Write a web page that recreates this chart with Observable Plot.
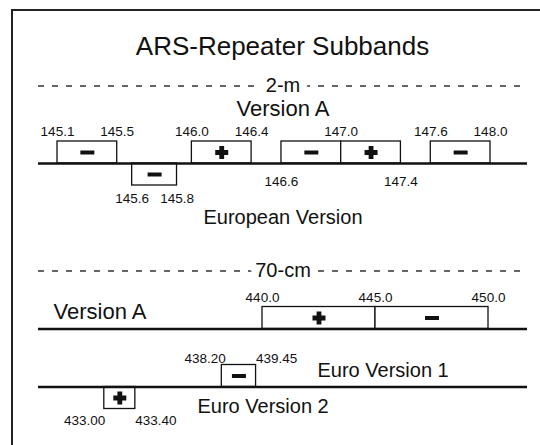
<!DOCTYPE html>
<html><head><meta charset="utf-8">
<script src="https://cdn.jsdelivr.net/npm/d3@7"></script>
<script src="https://cdn.jsdelivr.net/npm/@observablehq/plot@0.6"></script>
<style>
body{margin:0;background:#fff;}
#page{position:relative;width:540px;height:445px;overflow:hidden;background:#fff;font-family:"Liberation Sans",Arial,sans-serif;color:#111;}
#frame{position:absolute;left:11px;top:9px;width:600px;height:600px;border-top:2px solid #222;border-left:2px solid #222;}
#title{position:absolute;left:0;width:565px;top:31px;line-height:30px;text-align:center;font-size:26px;}
</style></head><body>
<div id="page"><div id="frame"></div><div id="title">ARS-Repeater Subbands</div></div>
<script>
// ---- data ----
const twoMVersionA = [
  {lo: 145.1, hi: 145.5, sign: "-"},
  {lo: 146.0, hi: 146.4, sign: "+"},
  {lo: 146.6, hi: 147.0, sign: "-"},
  {lo: 147.0, hi: 147.4, sign: "+"},
  {lo: 147.6, hi: 148.0, sign: "-"}
];
const twoMEuropean = [{lo: 145.6, hi: 145.8, sign: "-"}];
const twoMLabelsAbove = ["145.1", "145.5", "146.0", "146.4", "147.0", "147.6", "148.0"];
const twoMLabelsBelow = ["146.6", "147.4"];
const twoMEuroLabels = ["145.6", "145.8"];

const cm70VersionA = [
  {lo: 440.0, hi: 445.0, sign: "+"},
  {lo: 445.0, hi: 450.0, sign: "-"}
];
const cm70Labels = ["440.0", "445.0", "450.0"];
const cm70Euro1 = [{lo: 438.20, hi: 439.45, sign: "-"}];
const cm70Euro1Labels = ["438.20", "439.45"];
const cm70Euro2 = [{lo: 433.00, hi: 433.40, sign: "+"}];
const cm70Euro2Labels = ["433.00", "433.40"];

// ---- styling helpers ----
const ink = "#111";
const font = "Liberation Sans, Arial, sans-serif";
const minusSym = {draw(ctx) { ctx.moveTo(-7, -2); ctx.lineTo(7, -2); ctx.lineTo(7, 2); ctx.lineTo(-7, 2); ctx.closePath(); }};
const plusSym = {draw(ctx) {
  const a = 6.5, t = 2.4;
  ctx.moveTo(-t, -a); ctx.lineTo(t, -a); ctx.lineTo(t, -t); ctx.lineTo(a, -t); ctx.lineTo(a, t);
  ctx.lineTo(t, t); ctx.lineTo(t, a); ctx.lineTo(-t, a); ctx.lineTo(-t, t); ctx.lineTo(-a, t);
  ctx.lineTo(-a, -t); ctx.lineTo(-t, -t); ctx.closePath();
}};
const mid = d => (d.lo + d.hi) / 2;

function boxes(data, y1, y2, widen = 0) {
  return [
    Plot.rect(data, {x1: "lo", x2: "hi", y1, y2, fill: "white", stroke: ink, strokeWidth: 1.3, insetRight: -widen}),
    Plot.dot(data.filter(d => d.sign === "+"), {x: mid, y: (y1 + y2) / 2, dx: widen / 2, symbol: plusSym, fill: ink, stroke: "none"}),
    Plot.dot(data.filter(d => d.sign === "-"), {x: mid, y: (y1 + y2) / 2, dx: widen / 2, symbol: minusSym, fill: ink, stroke: "none"})
  ];
}
function header(y, label) {
  return [
    Plot.ruleY([y], {stroke: "#333", strokeWidth: 1.6, strokeDasharray: "6,8"}),
    Plot.text([label], {y, text: d => d, frameAnchor: "middle", fontSize: 20, fill: ink, stroke: "white", strokeWidth: 16})
  ];
}
function place(svg, top) {
  svg.style.position = "absolute";
  svg.style.left = "0px";
  svg.style.top = top + "px";
  svg.style.background = "transparent";
  svg.style.overflow = "visible";
  document.getElementById("page").appendChild(svg);
}

// ---- 2-m section ----
const euroWiden2m = 15;
const p1 = Plot.plot({
  width: 540, height: 154,
  marginLeft: 38, marginRight: 13, marginTop: 0, marginBottom: 0,
  style: {fontFamily: font},
  x: {domain: [145.1, 148.0], range: [57, 490], axis: null},
  y: {domain: [-3, 4], range: [154, 0], axis: null},
  marks: [
    ...header(3.52, "2-m"),
    Plot.text(["Version A"], {y: 2.5, text: d => d, frameAnchor: "middle", fontSize: 22, fill: ink}),
    ...boxes(twoMVersionA, 0, 1),
    ...boxes(twoMEuropean, -1, 0, euroWiden2m),
    Plot.ruleY([0], {stroke: ink, strokeWidth: 2.6}),
    Plot.text(twoMLabelsAbove, {x: d => +d, y: 1, dy: -10, text: d => d, fontSize: 13.5, fill: ink}),
    Plot.text(twoMLabelsBelow, {x: d => +d, y: 0, dy: 18, text: d => d, fontSize: 13.5, fill: ink}),
    Plot.text(twoMEuroLabels.slice(0, 1), {x: d => +d, y: -1, dy: 13, text: d => d, fontSize: 13.5, fill: ink}),
    Plot.text(twoMEuroLabels.slice(1), {x: d => +d, y: -1, dy: 13, dx: euroWiden2m, text: d => d, fontSize: 13.5, fill: ink}),
    Plot.text(["European Version"], {y: -2.45, text: d => d, frameAnchor: "middle", fontSize: 20, fill: ink})
  ]
});
place(p1, 75);

// ---- 70-cm section ----
const widenE1 = 6, widenE2 = 22;
const vaRow = 2.636;
const p2 = Plot.plot({
  width: 540, height: 182,
  marginLeft: 38, marginRight: 13, marginTop: 0, marginBottom: 0,
  style: {fontFamily: font},
  x: {domain: [440, 450], range: [262, 488], axis: null},
  y: {domain: [-2.5, 5.75], range: [181.5, 0], axis: null},
  marks: [
    ...header(5.27, "70-cm"),
    Plot.text(["Version A"], {y: 3.41, text: d => d, frameAnchor: "left", textAnchor: "start", dx: 15, fontSize: 22, fill: ink}),
    ...boxes(cm70VersionA, vaRow, vaRow + 1),
    Plot.ruleY([vaRow], {stroke: ink, strokeWidth: 2.6}),
    Plot.text(cm70Labels, {x: d => +d, y: vaRow + 1, dy: -9, text: d => d, fontSize: 13.5, fill: ink}),
    ...boxes(cm70Euro1, 0, 1, widenE1),
    ...boxes(cm70Euro2, -1, 0, widenE2),
    Plot.ruleY([0], {stroke: ink, strokeWidth: 2.6}),
    Plot.text(cm70Euro1Labels.slice(0, 1), {x: d => +d, y: 1, dy: -6, dx: 4, textAnchor: "end", text: d => d, fontSize: 13.5, fill: ink}),
    Plot.text(cm70Euro1Labels.slice(1), {x: d => +d, y: 1, dy: -6, dx: widenE1, textAnchor: "start", text: d => d, fontSize: 13.5, fill: ink}),
    Plot.text(["Euro Version 1"], {y: 0.73, text: d => d, frameAnchor: "left", textAnchor: "start", dx: 279, fontSize: 20, fill: ink}),
    Plot.text(cm70Euro2Labels.slice(0, 1), {x: d => +d, y: -1, dy: 12, dx: 1, textAnchor: "end", text: d => d, fontSize: 13.5, fill: ink}),
    Plot.text(cm70Euro2Labels.slice(1), {x: d => +d, y: -1, dy: 12, dx: widenE2, textAnchor: "start", text: d => d, fontSize: 13.5, fill: ink}),
    Plot.text(["Euro Version 2"], {y: -0.91, text: d => d, frameAnchor: "left", textAnchor: "start", dx: 159, fontSize: 20, fill: ink})
  ]
});
place(p2, 259.5);
</script>
</body></html>
